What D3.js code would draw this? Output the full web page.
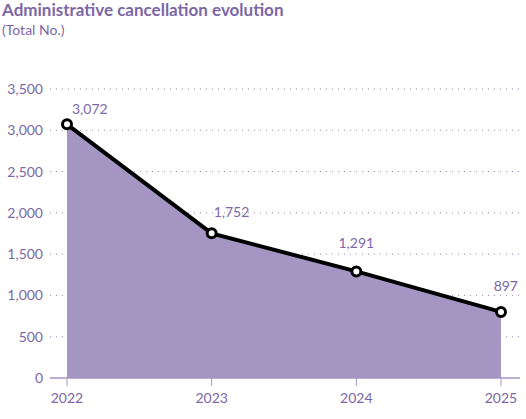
<!DOCTYPE html><html><head><meta charset="utf-8"><script src="https://cdn.jsdelivr.net/npm/d3@7"></script>
<style>body{margin:0;background:#fff}text{font-family:Lato,sans-serif}</style></head><body><svg id="c" width="526" height="419"></svg>
<script>
const years=["2022","2023","2024","2025"];
const values=[3072,1752,1291,800];
const labels=["3,072","1,752","1,291","897"];
const yTicks=[0,500,1000,1500,2000,2500,3000,3500];
const purple="#7c67a6", fill="#a595c2";
const svg=d3.select("#c");
svg.append("text").attr("x",2).attr("y",16).attr("font-size",17).attr("font-weight",700).attr("fill",purple).text("Administrative cancellation evolution");
svg.append("text").attr("x",2).attr("y",35).attr("font-size",14).attr("fill",purple).text("(Total No.)");
const x=d3.scalePoint().domain(years).range([67,501]);
const y=d3.scaleLinear().domain([0,3500]).range([378,89]);
const g=svg.append("g");
yTicks.filter(t=>t>0).forEach(t=>g.append("line").attr("x1",50).attr("x2",520).attr("y1",y(t)).attr("y2",y(t)).attr("stroke","#9a8cbf").attr("stroke-dasharray","1,5"));
yTicks.forEach(t=>g.append("text").attr("x",43).attr("y",y(t)+5).attr("text-anchor","end").attr("font-size",14).attr("fill",purple).text(d3.format(",")(t)));
const data=years.map((yr,i)=>({yr,v:values[i],l:labels[i]}));
g.append("path").datum(data).attr("d",d3.area().x(d=>x(d.yr)).y0(y(0)).y1(d=>y(d.v))).attr("fill",fill);
g.append("line").attr("x1",50).attr("x2",520).attr("y1",378).attr("y2",378).attr("stroke","#a595c2").attr("stroke-width",1.5);
years.forEach(yr=>{g.append("line").attr("x1",x(yr)).attr("x2",x(yr)).attr("y1",378).attr("y2",386).attr("stroke","#a595c2");
g.append("text").attr("x",x(yr)).attr("y",403).attr("text-anchor","middle").attr("font-size",14).attr("fill",purple).text(yr);});
g.append("path").datum(data).attr("d",d3.line().x(d=>x(d.yr)).y(d=>y(d.v))).attr("fill","none").attr("stroke","#000").attr("stroke-width",4);
g.selectAll("circle").data(data).join("circle").attr("cx",d=>x(d.yr)).attr("cy",d=>y(d.v)).attr("r",4.5).attr("fill","#fff").attr("stroke","#000").attr("stroke-width",3);
const off=[[5,-10,"start"],[2,-16,"start"],[0,-23,"middle"],[0,-21,"end"]];
data.forEach((d,i)=>g.append("text").attr("x",x(d.yr)+off[i][0]+(i==3?17:0)).attr("y",y(d.v)+off[i][1]).attr("text-anchor",off[i][2]).attr("font-size",14).attr("fill",purple).text(d.l));
</script></body></html>
